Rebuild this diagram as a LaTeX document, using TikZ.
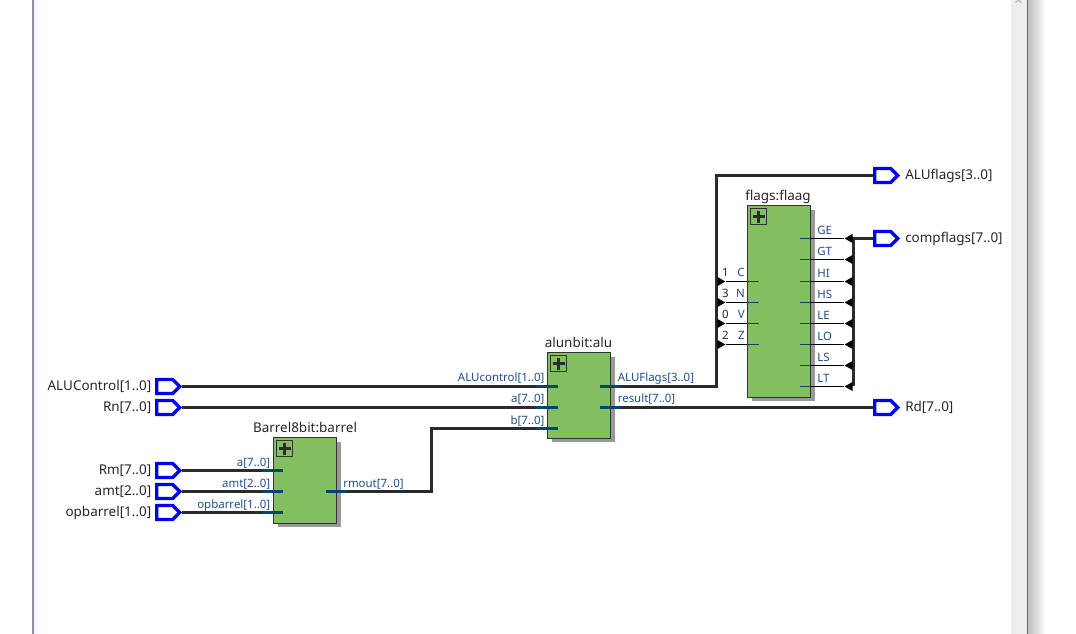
\documentclass[tikz,border=0pt]{standalone}
\usepackage{fontspec}
\setmainfont{Noto Sans}
\usetikzlibrary{shapes.symbols,shapes.geometric,calc}
\definecolor{blockgreen}{HTML}{82BF5F}
\definecolor{pinblue}{HTML}{0000F0}
\definecolor{busgray}{HTML}{2B2B2B}
\definecolor{stubblue}{HTML}{004673}
\definecolor{labelblue}{HTML}{1F4F8A}
\definecolor{panelgray}{HTML}{EEEEEE}
\definecolor{framegray}{HTML}{8A8FA8}
\tikzset{
  x=0.75pt,y=-0.75pt,
  block/.style={draw=black!80,fill=blockgreen,line width=0.75pt,minimum width=62.6*0.75pt,inner sep=0pt,anchor=north west,
    preaction={draw=none,fill=black!40,transform canvas={xshift=3.2pt,yshift=-3.1pt}}},
  plusbox/.style={draw=black!80,fill=blockgreen,line width=0.75pt,minimum size=15.5*0.75pt,inner sep=0pt},
  pinout/.style={draw=pinblue,fill=white,line width=2.5pt,shape=signal,signal to=east,signal pointer angle=90,minimum width=23*0.75pt,minimum height=14*0.75pt,inner sep=0pt,anchor=west},
  bus/.style={draw=busgray,line width=2.25pt},
  stub/.style={draw=stubblue,line width=2.25pt},
  thinstub/.style={draw=stubblue,line width=0.75pt},
  wire/.style={draw=black,line width=0.75pt},
  ripper/.style={fill=black,shape=isosceles triangle,isosceles triangle apex angle=60,minimum height=8*0.75pt,minimum width=9*0.75pt,inner sep=0pt},
  outer/.style={font=\fontsize{10.1}{12}\selectfont,text=black!85,inner sep=0pt},
  port/.style={font=\fontsize{8.6}{10}\selectfont,text=labelblue,inner sep=0pt},
}
\begin{document}
\begin{tikzpicture}
\useasboundingbox (0,0) rectangle (1076,634);
\fill[white] (0,0) rectangle (1076,634);
% window frame
\fill[black!3] (33,0) rectangle (37,634);
\fill[framegray] (32,0) rectangle (33.5,634);
\fill[panelgray] (1011,0) rectangle (1027,634);
\fill[black!60] (1027,0) rectangle (1028,634);
\shade[left color=black!25,right color=white] (1028,0) rectangle (1046,634);
\draw[black!30,line width=0.8pt] (1015.5,2.5)--(1018.5,0.3)--(1021.5,2.5);
% blocks
\node[block,minimum height=191.4*0.75pt] (flaag) at (747.4,205.4) {};
\node[block,minimum height=85.2*0.75pt] (alu) at (547.4,352.4) {};
\node[block,minimum height=85.2*0.75pt] (barrel) at (273.4,437.4) {};
\foreach \b in {flaag,alu,barrel}
{
\node[plusbox] (plus\b) at ($(\b.north west)+(11.2,11.2)$) {};
\draw[busgray,line width=2.25pt] ($(plus\b.center)+(-6,0)$)--($(plus\b.center)+(6,0)$);
\draw[busgray,line width=2.25pt] ($(plus\b.center)+(0,-6)$)--($(plus\b.center)+(0,6)$);
}
\node[anchor=base,outer] (tflaag) at (778,200.8) {flags:flaag};
\node[anchor=base,outer] (talu) at (578.5,347.5) {alunbit:alu};
\node[anchor=base,outer] (tbarrel) at (305,432.8) {Barrel8bit:barrel};
% pins
\node[pinout] (pALUControl) at (155,386.5) {};
\node[pinout] (pRn) at (155,407.5) {};
\node[pinout] (pRm) at (155,470.5) {};
\node[pinout] (pamt) at (155,491.5) {};
\node[pinout] (popbarrel) at (155,512.5) {};
\node[pinout] (pALUflags) at (873,175.5) {};
\node[pinout] (pcompflags) at (873,238.5) {};
\node[pinout] (pRd) at (873,407.5) {};
\node[outer,anchor=base east] (lALUControl) at (151.5,390.8) {ALUControl[1..0]};
\node[outer,anchor=base east] (lRn) at (151.5,411.8) {Rn[7..0]};
\node[outer,anchor=base east] (lRm) at (151.5,474.8) {Rm[7..0]};
\node[outer,anchor=base east] (lamt) at (151.5,495.8) {amt[2..0]};
\node[outer,anchor=base east] (lopbarrel) at (151.5,516.8) {opbarrel[1..0]};
\node[outer,anchor=base west] (lALUflags) at (905,179.8) {ALUflags[3..0]};
\node[outer,anchor=base west] (lcompflags) at (905,242.8) {compflags[7..0]};
\node[outer,anchor=base west] (lRd) at (905,411.8) {Rd[7..0]};
% ports
\coordinate (aluC) at (558,386.5);
\coordinate (aluA) at (558,407.5);
\coordinate (aluB) at (558,428.5);
\coordinate (aluF) at (600,386.5);
\coordinate (aluR) at (600,407.5);
\coordinate (barA) at (283,470.5);
\coordinate (barT) at (283,491.5);
\coordinate (barO) at (283,512.5);
\coordinate (barM) at (326,491.5);
\coordinate (jog) at (431.5,491.5);
\coordinate (jogb) at (431.5,428.5);
\coordinate (flagbus) at (716.5,386.5);
\coordinate (flagtop) at (716.5,175.5);
\coordinate (cmptop) at (853.5,238.5);
\coordinate (cmpbot) at (853.5,386.5);
% buses
\draw[bus] (pALUControl.east)--(aluC);
\draw[bus] (pRn.east)--(aluA);
\draw[bus] (pRm.east)--(barA);
\draw[bus] (pamt.east)--(barT);
\draw[bus] (popbarrel.east)--(barO);
\draw[bus] (barM)--(jog)--(jogb)--(aluB);
\draw[bus] (aluF)--(flagbus)--(flagtop)--(pALUflags.west);
\draw[bus] (aluR)--(pRd.west);
\draw[bus] (pcompflags.west)--(cmptop)--(cmpbot);
% stubs
\draw[stub] (536,386.5)--(aluC);
\draw[stub] (536,407.5)--(aluA);
\draw[stub] (536,428.5)--(aluB);
\draw[stub] (aluF)--(621,386.5);
\draw[stub] (aluR)--(621,407.5);
\draw[stub] (262,470.5)--(barA);
\draw[stub] (262,491.5)--(barT);
\draw[stub] (262,512.5)--(barO);
\draw[stub] (barM)--(347,491.5);
\node[port,anchor=base east] (nC) at (544.7,381.7) {ALUcontrol[1..0]};
\node[port,anchor=base east] (nA) at (544.7,403) {a[7..0]};
\node[port,anchor=base east] (nB) at (544.7,424.3) {b[7..0]};
\node[port,anchor=base west] (nF) at (617.5,381.7) {ALUFlags[3..0]};
\node[port,anchor=base west] (nR) at (617.5,403) {result[7..0]};
\node[port,anchor=base east] (na) at (270.5,466.7) {a[7..0]};
\node[port,anchor=base east] (nt) at (270.5,487.7) {amt[2..0]};
\node[port,anchor=base east] (no) at (270.5,508.7) {opbarrel[1..0]};
\node[port,anchor=base west] (nm) at (343,487.7) {rmout[7..0]};
% flag outputs
\foreach \n/\y in {GE/238.5,GT/259.5,HI/281.5,HS/302.5,LE/323.5,LO/344.5,LS/365.5,LT/386.5}
{
\node[ripper,rotate=180] (r\n) at (850,\y) {};
\draw[wire] (810,\y)--(r\n.apex);
\draw[thinstub] (800,\y)--(810,\y);
\node[port,anchor=base west] (n\n) at (817,\y-4) {\n};
}
% flag inputs
\foreach \n/\v/\y in {C/1/281.5,N/3/302.5,V/0/323.5,Z/2/344.5}
{
\node[ripper] (r\n) at (720,\y) {};
\draw[wire] (r\n.apex)--(747,\y);
\draw[thinstub] (747,\y)--(759,\y);
\node[port,anchor=base,text=black!85] (v\n) at (725.5,\y-4.5) {\v};
\node[port,anchor=base east] (n\n) at (745,\y-4.5) {\n};
}
\end{tikzpicture}
\end{document}
